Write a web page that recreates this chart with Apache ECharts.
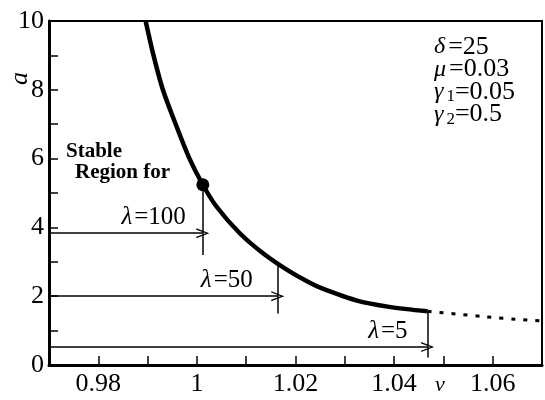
<!DOCTYPE html>
<html>
<head>
<meta charset="utf-8">
<script src="https://cdn.jsdelivr.net/npm/echarts@6/dist/echarts.min.js"></script>
<style>
  html, body { margin: 0; padding: 0; background: #fff; }
  #chart { width: 545px; height: 400px; }
</style>
</head>
<body>
<div id="chart"></div>
<script>
// stability boundary curve (nu, a)
var curveNu = [0.9896, 0.9912, 0.9931, 0.9957, 0.9985, 1.0012, 1.0040, 1.0087, 1.0134, 1.0188, 1.0228, 1.0255, 1.0323, 1.0390, 1.0468];
var curveA  = [10, 9, 8, 7, 6, 5.24, 4.6, 3.83, 3.25, 2.72, 2.4, 2.22, 1.88, 1.69, 1.56];
// dotted continuation
var dashNu = [1.0468, 1.055, 1.062, 1.07];
var dashA  = [1.56, 1.45, 1.36, 1.28];
// lambda guides
var lambdaNames  = ['100', '50', '5'];
var lambdaNu     = [1.0012, 1.0164, 1.0468];
var lambdaA      = [3.83, 2.0, 0.52];
var lambdaTop    = [5.24, 2.9, 1.56];
var lambdaBottom = [3.2, 1.5, 0.22];
// marked point
var dotPoint = [1.0012, 5.24];
// parameters
var params = [['δ', '', '25'], ['μ', '', '0.03'], ['γ', '1', '0.05'], ['γ', '2', '0.5']];

var serif = "'Liberation Serif', 'Times New Roman', serif";
var arrowHead = 'path://M0,12 L5,0 L10,12 L8.6,12 L5,3.2 L1.4,12 Z';
var labelGap = [17, 25, 20];

var curve = [], dash = [];
for (var i = 0; i < curveNu.length; i++) curve.push([curveNu[i], curveA[i]]);
for (var i = 0; i < dashNu.length; i++) dash.push([dashNu[i], dashA[i]]);

var arrowLines = [], vertLines = [];
for (var i = 0; i < lambdaNames.length; i++) {
    arrowLines.push([
        { coord: [0.97, lambdaA[i]] },
        { coord: [lambdaNu[i], lambdaA[i]],
          label: { formatter: '{i|λ}{n|=' + lambdaNames[i] + '}', distance: [labelGap[i], 3] } }
    ]);
    vertLines.push([
        { coord: [lambdaNu[i], lambdaTop[i]] },
        { coord: [lambdaNu[i], lambdaBottom[i]] }
    ]);
}

var graphics = [
    { type: 'text', left: 7, top: 72, rotation: Math.PI / 2,
      style: { text: 'a', font: 'italic 26px ' + serif, fill: '#000' } },
    { type: 'text', left: 435, top: 374,
      style: { text: 'ν', font: 'italic 22px ' + serif, fill: '#000' } },
    { type: 'text', left: 66, top: 141,
      style: { text: 'Stable', font: 'bold 21px ' + serif, fill: '#000' } },
    { type: 'text', left: 75, top: 162,
      style: { text: 'Region for', font: 'bold 21px ' + serif, fill: '#000' } }
];
for (var i = 0; i < params.length; i++) {
    var p = params[i];
    graphics.push({
        type: 'text', left: 434, top: 34 + i * 22.5,
        style: {
            text: '{g|' + p[0] + '}' + (p[1] ? '{s|' + p[1] + '}' : '') + '{n|=' + p[2] + '}',
            rich: {
                g: { font: 'italic 24px ' + serif, fill: '#000', padding: [0, 3, 0, 0] },
                s: { font: '17px ' + serif, fill: '#000', padding: [10, 0, 0, 0] },
                n: { font: '26px ' + serif, fill: '#000' }
            }
        }
    });
}

var option = {
    animation: false,
    backgroundColor: '#fff',
    grid: {
        left: 49, right: 2, top: 21, bottom: 35,
        show: true, borderColor: '#000', borderWidth: 2
    },
    xAxis: {
        type: 'value', min: 0.97, max: 1.07, interval: 0.01,
        axisLine: { lineStyle: { color: '#000', width: 3 } },
        axisTick: { inside: true, length: 9, lineStyle: { color: '#000', width: 1.5 } },
        splitLine: { show: false },
        axisLabel: {
            color: '#000', fontFamily: serif, fontSize: 26, margin: 6,
            formatter: function (v) {
                var k = Math.round(v * 100);
                return k % 2 === 0 ? String(+(k / 100).toFixed(2)) : '';
            }
        }
    },
    yAxis: {
        type: 'value', min: 0, max: 10, interval: 1,
        axisLine: { lineStyle: { color: '#000', width: 3 } },
        axisTick: { inside: true, length: 9, lineStyle: { color: '#000', width: 1.5 } },
        splitLine: { show: false },
        axisLabel: {
            color: '#000', fontFamily: serif, fontSize: 26, margin: 5,
            formatter: function (v) { return v % 2 === 0 ? String(v) : ''; }
        }
    },
    graphic: graphics,
    series: [
        {
            type: 'line', data: curve, smooth: 0.3, symbol: 'none',
            lineStyle: { color: '#000', width: 4.5 }
        },
        {
            type: 'line', data: dash, smooth: true, symbol: 'none',
            lineStyle: { color: '#000', width: 3, type: [4, 8] }
        },
        {
            type: 'scatter', data: [dotPoint], symbolSize: 13, z: 5,
            itemStyle: { color: '#000', opacity: 1 }
        },
        {
            type: 'line', data: [], silent: true,
            markLine: {
                silent: true, animation: false,
                symbol: ['none', arrowHead], symbolSize: [10, 13],
                lineStyle: { color: '#000', width: 1.5, type: 'solid' },
                label: {
                    show: true, position: 'insideEndTop',
                    fontFamily: serif, fontSize: 25, color: '#000',
                    rich: {
                        i: { fontFamily: serif, fontStyle: 'italic', fontSize: 25, color: '#000', padding: [0, 2, 0, 0] },
                        n: { fontFamily: serif, fontSize: 25, color: '#000' }
                    }
                },
                data: arrowLines
            }
        },
        {
            type: 'line', data: [], silent: true,
            markLine: {
                silent: true, animation: false, symbol: ['none', 'none'],
                lineStyle: { color: '#000', width: 1.5, type: 'solid' },
                label: { show: false },
                data: vertLines
            }
        }
    ]
};

var chart = echarts.init(document.getElementById('chart'));
chart.setOption(option);
</script>
</body>
</html>
